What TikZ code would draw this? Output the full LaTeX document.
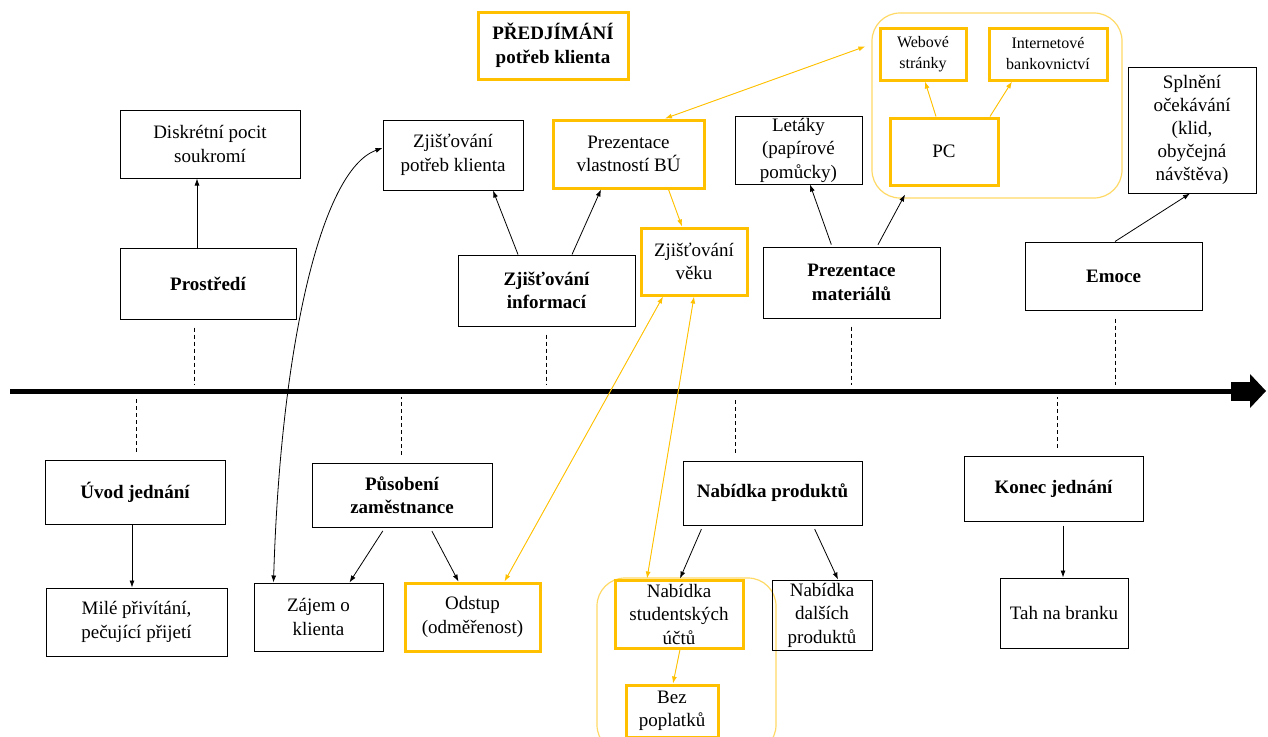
\documentclass[tikz,border=0pt]{standalone}
\usepackage{fontspec}
\setmainfont{Liberation Serif}
\usetikzlibrary{arrows.meta}
\definecolor{zluta}{HTML}{FFC000}
\definecolor{zlutasv}{HTML}{FFD966}

\begin{document}
\begin{tikzpicture}[x=1pt, y=-1pt,
  box/.style={draw, line width=1pt, align=center, inner sep=1pt,
    font=\fontsize{19}{23.5}\selectfont},
  hlavni/.style={box, font=\fontsize{19}{23.5}\selectfont\bfseries},
  zbox/.style={box, draw=zluta, line width=3pt},
  malybox/.style={zbox, font=\fontsize{16}{21}\selectfont},
  ramec/.style={draw=zlutasv, line width=1.2pt, rounded corners=28pt},
  sip/.style={-{Latex[length=7pt,width=5pt]}, line width=0.8pt, shorten <=4pt},
  zsip/.style={-{Latex[length=7pt,width=5pt]}, draw=zluta, fill=zluta, line width=0.9pt},
  dzsip/.style={zsip, {Latex[length=7pt,width=5pt]}-{Latex[length=7pt,width=5pt]}},
  dsip/.style={{Latex[length=7pt,width=5pt]}-{Latex[length=7pt,width=5pt]}, line width=0.8pt},
  carka/.style={line width=0.8pt, dash pattern=on 4pt off 3pt, shorten <=8pt, shorten >=6pt}]
  \useasboundingbox (0,0) rectangle (1268,736);

  % ramecky
  \node[ramec, minimum width=250, minimum height=185] (pcram) at (997,105.5) {};
  \node[ramec, minimum width=179, minimum height=175] (ucram) at (686.5,665.5) {};

  % osa
  \coordinate (osaA) at (10,391);
  \coordinate (osaB) at (1233,391);
  \draw[line width=5pt] (osaA) -- (osaB);
  \fill (1231,381.5) rectangle (1251,400.5);
  \fill (1250,374) -- (1266,391) -- (1250,408) -- cycle;

  % horni cast
  \node[zbox, font=\fontsize{19}{23.5}\selectfont\bfseries, minimum width=150, minimum height=67] (predjimani) at (553,45.5) {PŘEDJÍMÁNÍ\\potřeb klienta};
  \node[box, minimum width=180, minimum height=68] (diskretni) at (210,144) {Diskrétní pocit\\soukromí};
  \node[hlavni, minimum width=176, minimum height=71] (prostredi) at (208,283.5) {Prostředí};
  \node[box, minimum width=140, minimum height=70] (potreby) at (453,155) {Zjišťování\\potřeb klienta};
  \node[zbox, minimum width=151, minimum height=68] (vlastnosti) at (628.5,154) {Prezentace\\vlastností BÚ};
  \node[hlavni, minimum width=177, minimum height=71] (informace) at (546.5,290.5) {Zjišťování\\informací};
  \node[zbox, minimum width=106, minimum height=67] (vek) at (694,261.5) {Zjišťování\\věku};
  \node[box, minimum width=127, minimum height=68] (letaky) at (798.5,150) {Letáky\\(papírové\\pomůcky)};
  \node[hlavni, minimum width=177, minimum height=71] (materialy) at (851.5,282.5) {Prezentace\\materiálů};
  \node[malybox, minimum width=86, minimum height=52] (webove) at (923,54) {Webové\\stránky};
  \node[malybox, minimum width=118, minimum height=52] (internet) at (1048,54) {Internetové\\bankovnictví};
  \node[zbox, minimum width=108, minimum height=67] (pc) at (944,151.5) {PC};
  \node[box, font=\fontsize{19}{23}\selectfont, minimum width=128, minimum height=126] (splneni) at (1192,130) {Splnění\\očekávání\\(klid,\\obyčejná\\návštěva)};
  \node[hlavni, minimum width=177, minimum height=68] (emoce) at (1113.5,276) {Emoce};

  % dolni cast
  \node[hlavni, minimum width=180, minimum height=64] (uvod) at (135,492) {Úvod jednání};
  \node[box, minimum width=181, minimum height=68] (mile) at (136.5,622) {Milé přivítání,\\pečující přijetí};
  \node[hlavni, minimum width=180, minimum height=64] (pusobeni) at (402,495) {Působení\\zaměstnance};
  \node[box, minimum width=129, minimum height=68] (zajem) at (318.5,617) {Zájem o\\klienta};
  \node[zbox, minimum width=135, minimum height=68] (odstup) at (472.5,617) {Odstup\\(odměřenost)};
  \node[hlavni, minimum width=179, minimum height=64] (produkty) at (772.5,493) {Nabídka produktů};
  \node[zbox, minimum width=128, minimum height=68] (studentske) at (679,614) {Nabídka\\studentských\\účtů};
  \node[zbox, minimum width=92, minimum height=52] (bez) at (672,711) {Bez\\poplatků};
  \node[box, minimum width=100, minimum height=70] (dalsi) at (822,615) {Nabídka\\dalších\\produktů};
  \node[hlavni, minimum width=179, minimum height=65] (konec) at (1053.5,488.5) {Konec jednání};
  \node[box, minimum width=128, minimum height=70] (tah) at (1064,613) {Tah na branku};

  % carky k ose
  \draw[carka] ([xshift=-14pt]prostredi.south) -- ([xshift=-14pt]prostredi.south |- osaA);
  \draw[carka] (informace.south) -- (informace.south |- osaA);
  \draw[carka] (materialy.south) -- (materialy.south |- osaA);
  \draw[carka] ([xshift=1.5pt]emoce.south) -- ([xshift=1.5pt]emoce.south |- osaA);
  \draw[carka] ([xshift=1pt]uvod.north) -- ([xshift=1pt]uvod.north |- osaA);
  \draw[carka] ([xshift=-1pt]pusobeni.north) -- ([xshift=-1pt]pusobeni.north |- osaA);
  \draw[carka] ([xshift=-37.5pt]produkty.north) -- ([xshift=-37.5pt]produkty.north |- osaA);
  \draw[carka] ([xshift=3.5pt]konec.north) -- ([xshift=3.5pt]konec.north |- osaA);

  % cerne sipky
  \draw[sip, shorten <=0pt] ([xshift=-11pt]prostredi.north) -- ([xshift=-11pt]prostredi.north |- diskretni.south);
  \draw[sip, shorten <=0pt] ([xshift=-28.5pt]informace.north) -- ([xshift=40pt]potreby.south);
  \draw[sip, shorten <=0pt] ([xshift=25.5pt]informace.north) -- ([xshift=-27.5pt]vlastnosti.south);
  \draw[sip, shorten <=2pt] ([xshift=-19.5pt]materialy.north) -- ([xshift=11.5pt]letaky.south);
  \draw[sip, shorten <=2pt] ([xshift=25.5pt]materialy.north) -- ([xshift=-39pt,yshift=-8pt]pc.south);
  \draw[sip, shorten <=0pt] ([xshift=1.5pt]emoce.north) -- ([xshift=-2pt]splneni.south);
  \draw[sip, shorten <=0pt] ([xshift=-3pt]uvod.south) -- ([xshift=-3pt]uvod.south |- mile.north);
  \draw[sip] ([xshift=-17pt]pusobeni.south) -- ([xshift=31pt]zajem.north);
  \draw[sip] ([xshift=28pt]pusobeni.south) -- ([xshift=-14pt]odstup.north);
  \draw[sip] ([xshift=-69.5pt]produkty.south) -- ([xshift=1pt]studentske.north);
  \draw[sip] ([xshift=40.5pt]produkty.south) -- ([xshift=16pt]dalsi.north);
  \draw[sip] ([xshift=9.5pt]konec.south) -- ([xshift=9.5pt]konec.south |- tah.north);
  \draw[dsip] ([xshift=-45pt]zajem.north) .. controls +(7,-233) and +(-62,22) .. ([yshift=7pt]potreby.west);

  % zlute sipky
  \draw[zsip] ([xshift=-8pt]pc.north) -- ([xshift=2pt]webove.south);
  \draw[zsip] ([xshift=46pt]pc.north) -- ([xshift=-36pt]internet.south);
  \draw[dzsip] ([xshift=-6pt,yshift=-34pt]pcram.north west) -- ([xshift=36.5pt]vlastnosti.north);
  \draw[zsip] ([xshift=40pt]vlastnosti.south) -- ([xshift=-12pt]vek.north);
  \draw[dzsip] ([xshift=-31pt]vek.south) -- ([xshift=32pt]odstup.north);
  \draw[dzsip] (vek.south) -- ([xshift=-32pt]studentske.north);
  \draw[zsip] ([xshift=1pt]studentske.south) -- ([xshift=1pt]bez.north);
\end{tikzpicture}
\end{document}
